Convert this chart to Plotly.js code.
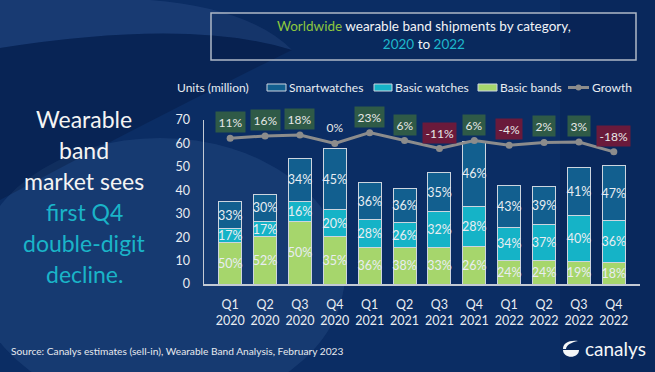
<!DOCTYPE html>
<html><head><meta charset="utf-8">
<script src="https://cdn.plot.ly/plotly-3.0.1.min.js"></script>
<style>html,body{margin:0;padding:0;background:#0b2d64;overflow:hidden;} #chart{width:655px;height:372px;}</style>
</head><body><div id="chart"></div>
<script>
// ---- data ----
const quarters = ['Q1','Q2','Q3','Q4','Q1','Q2','Q3','Q4','Q1','Q2','Q3','Q4'];
const years = ['2020','2020','2020','2020','2021','2021','2021','2021','2022','2022','2022','2022'];
const totals = [35.1, 38.7, 53.6, 57.8, 43.2, 40.8, 47.5, 61.0, 41.8, 41.5, 49.6, 50.1]; // million units
const smartShare = [33, 30, 34, 45, 36, 36, 35, 46, 43, 39, 41, 47];
const basicWatchShare = [17, 17, 16, 20, 28, 26, 32, 28, 34, 37, 40, 36];
const basicBandShare = [50, 52, 50, 35, 36, 38, 33, 26, 24, 24, 19, 18];
const growth = [11, 16, 18, 0, 23, 6, -11, 6, -4, 2, 3, -18]; // YoY %
const seriesNames = ['Smartwatches', 'Basic watches', 'Basic bands', 'Growth'];

// ---- derived ----
const cats = quarters.map((q, i) => q + '<br>' + years[i]);
const val = share => share.map((s, i) => totals[i] * s / 100);
const pct = share => share.map(s => s + '%');

// ---- geometry helpers (layout decoration only) ----
const W = 655, H = 372, L = 204, R = 15, T = 120, B = 88;
const pw = W - L - R, ph = H - T - B;
const fx = px => (px - L) / pw;
const fy = py => (H - B - py) / ph;
const P = (px, py) => fx(px).toFixed(4) + ',' + fy(py).toFixed(4);

const FONT = 'Lato, "Open Sans", "DejaVu Sans", sans-serif';
const C_SMART = '#125f8f', C_BW = '#15b3c7', C_BB = '#a6d66c', C_GROWTH = '#8c8c8c';
const TXT = '#e9edf2';
const BAR_LINE = {color: '#cdd5df', width: 1};

function barTrace(name, share, color) {
  return {
    type: 'bar', name: name, x: cats, y: val(share), text: pct(share),
    textposition: 'inside', insidetextanchor: 'middle', textangle: 0, constraintext: 'none',
    insidetextfont: {family: FONT, size: 12.5, color: TXT},
    marker: {color: color, line: BAR_LINE}, hoverinfo: 'skip', showlegend: false
  };
}

const traces = [
  barTrace(seriesNames[2], basicBandShare, C_BB),
  barTrace(seriesNames[1], basicWatchShare, C_BW),
  barTrace(seriesNames[0], smartShare, C_SMART),
  {
    type: 'scatter', mode: 'lines+markers', name: seriesNames[3], x: cats, y: growth, yaxis: 'y2',
    line: {color: C_GROWTH, width: 3}, marker: {color: C_GROWTH, size: 7},
    hoverinfo: 'skip', showlegend: false
  }
];

const annotations = [];
const shapes = [];

// background decorations
shapes.push({type: 'circle', xref: 'paper', yref: 'paper', layer: 'below',
  x0: fx(-25), x1: fx(345), y0: fy(410), y1: fy(138),
  fillcolor: 'rgba(120,160,220,0.11)', line: {width: 0}});
shapes.push({type: 'path', xref: 'paper', yref: 'paper', layer: 'below',
  path: 'M' + P(0, 0) + ' L' + P(150, 0) + ' Q' + P(250, 8) + ' ' + P(292, 50) +
        ' Q' + P(190, 18) + ' ' + P(0, 48) + ' Z',
  fillcolor: 'rgba(120,160,220,0.12)', line: {width: 0}});
shapes.push({type: 'path', xref: 'paper', yref: 'paper', layer: 'below',
  path: 'M' + P(0, 48) + ' Q' + P(190, 18) + ' ' + P(292, 50) + ' Q' + P(150, 120) + ' ' + P(0, 200) + ' Z',
  fillcolor: 'rgba(0,10,40,0.25)', line: {width: 0}});
shapes.push({type: 'rect', xref: 'paper', yref: 'paper', layer: 'below',
  x0: fx(560), x1: fx(655), y0: fy(372), y1: fy(0),
  fillcolor: 'rgba(0,10,40,0.12)', line: {width: 0}});

// title box
shapes.push({type: 'rect', xref: 'paper', yref: 'paper', layer: 'below',
  x0: fx(211), x1: fx(636), y0: fy(60), y1: fy(13),
  fillcolor: 'rgba(0,10,40,0.10)', line: {color: '#aeb8c6', width: 1.5}});
annotations.push({xref: 'paper', yref: 'paper', x: fx(424), y: fy(35), showarrow: false,
  xanchor: 'center', yanchor: 'middle', align: 'center',
  text: '<span style="color:#8dc63f">Worldwide</span> wearable band shipments by category,<br>' +
        '<span style="color:#1fb8cc">2020</span> to <span style="color:#1fb8cc">2022</span>',
  font: {family: FONT, size: 13.5, color: '#f2f4f7'}});

// left headline
const headWhite = ['Wearable', 'band', 'market sees'];
const headCyan = ['first Q4', 'double-digit', 'decline.'];
headWhite.concat(headCyan).forEach((t, i) => {
  annotations.push({xref: 'paper', yref: 'paper', x: fx(84), y: fy(119 + i * 31), showarrow: false,
    xanchor: 'center', yanchor: 'middle', text: t,
    font: {family: FONT, size: 23, color: i < 3 ? '#f4f4f4' : '#1ab4c8'}});
});

// manual legend
annotations.push({xref: 'paper', yref: 'paper', x: fx(175), y: fy(87), showarrow: false,
  xanchor: 'left', yanchor: 'middle', text: 'Units (million)', font: {family: FONT, size: 12, color: TXT}});
const legItems = [
  {name: seriesNames[0], color: C_SMART, x0: 267, x1: 286},
  {name: seriesNames[1], color: C_BW, x0: 374, x1: 392},
  {name: seriesNames[2], color: C_BB, x0: 478, x1: 497}
];
legItems.forEach(it => {
  shapes.push({type: 'rect', xref: 'paper', yref: 'paper', x0: fx(it.x0), x1: fx(it.x1), y0: fy(91), y1: fy(84),
    fillcolor: it.color, line: {color: '#cdd5df', width: 1}});
  annotations.push({xref: 'paper', yref: 'paper', x: fx(it.x1 + 0.5), y: fy(87), showarrow: false,
    xanchor: 'left', yanchor: 'middle', text: it.name, font: {family: FONT, size: 12, color: TXT}});
});
shapes.push({type: 'line', xref: 'paper', yref: 'paper', x0: fx(568), x1: fx(589), y0: fy(87.5), y1: fy(87.5),
  line: {color: C_GROWTH, width: 3}});
shapes.push({type: 'circle', xref: 'paper', yref: 'paper', x0: fx(575.5), x1: fx(581.5), y0: fy(90.5), y1: fy(84.5),
  fillcolor: C_GROWTH, line: {width: 0}});
annotations.push({xref: 'paper', yref: 'paper', x: fx(589.5), y: fy(87), showarrow: false,
  xanchor: 'left', yanchor: 'middle', text: seriesNames[3], font: {family: FONT, size: 12, color: TXT}});

// growth labels
growth.forEach((g, i) => {
  annotations.push({xref: 'x', yref: 'y2', x: cats[i], y: g, yshift: 16, showarrow: false,
    xanchor: 'center', yanchor: 'middle', text: g + '%',
    bgcolor: g < 0 ? '#6a1a3b' : (g > 0 ? '#2f5a47' : 'rgba(0,0,0,0)'), borderpad: 2.5,
    font: {family: FONT, size: 12, color: '#e8e8e8'}});
});

// footer
annotations.push({xref: 'paper', yref: 'paper', x: fx(9), y: fy(351), showarrow: false,
  xanchor: 'left', yanchor: 'middle',
  text: 'Source: Canalys estimates (sell-in), Wearable Band Analysis, February 2023',
  font: {family: FONT, size: 10.2, color: '#e6e9ee'}});
annotations.push({xref: 'paper', yref: 'paper', x: fx(583), y: fy(348), showarrow: false,
  xanchor: 'left', yanchor: 'middle', text: 'canalys', font: {family: FONT, size: 19, color: '#f4f6f8'}});
shapes.push({type: 'path', xref: 'paper', yref: 'paper',
  path: 'M' + P(563, 350) + ' C' + P(563, 359) + ' ' + P(579, 359) + ' ' + P(579, 350) + ' Z',
  fillcolor: '#f4f6f8', line: {width: 0}});
shapes.push({type: 'path', xref: 'paper', yref: 'paper',
  path: 'M' + P(563, 349) + ' C' + P(563, 343) + ' ' + P(569, 340) + ' ' + P(578, 341) +
        ' C' + P(571, 342.5) + ' ' + P(566.5, 345) + ' ' + P(566, 349) + ' Z',
  fillcolor: '#f4f6f8', line: {width: 0}});

const layout = {
  width: W, height: H,
  margin: {l: L, r: R, t: T, b: B, pad: 0},
  paper_bgcolor: '#0b2d64', plot_bgcolor: 'rgba(0,0,0,0)',
  font: {family: FONT, color: TXT},
  barmode: 'stack', bargap: 0.34,
  showlegend: false,
  xaxis: {type: 'category', showline: true, linecolor: '#c3cad4', linewidth: 1.5, showgrid: false,
    zeroline: false, ticks: '', ticklabelstandoff: 8, tickfont: {family: FONT, size: 12.5, color: TXT}},
  yaxis: {range: [0, 70], dtick: 10, showline: true, linecolor: '#c3cad4', linewidth: 1.5, showgrid: false,
    zeroline: false, ticks: '', ticklabelstandoff: 10, tickfont: {family: FONT, size: 12.5, color: TXT}},
  yaxis2: {overlaying: 'y', range: [-300, 50], visible: false, showgrid: false, zeroline: false},
  shapes: shapes, annotations: annotations
};

Plotly.newPlot('chart', traces, layout, {staticPlot: true, displayModeBar: false});
</script></body></html>
